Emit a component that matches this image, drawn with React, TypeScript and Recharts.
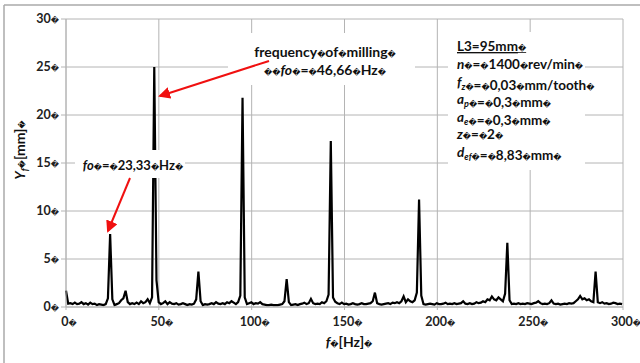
import { LineChart, Line, XAxis, YAxis, CartesianGrid } from 'recharts'

// spectrum amplitude Yf [mm], one value per frequency bin
const binHz = 1.1885
const amplitudes = [
  1.7, 0.35, 0.4, 0.3, 0.45, 0.3, 0.35, 0.5, 0.3, 0.4,
  0.25, 0.45, 0.3, 0.35, 0.2, 0.3, 0.25, 0.2, 0.3, 0.9,
  7.6, 0.8, 0.2, 0.3, 0.4, 0.7, 0.9, 1.7, 0.5, 0.3,
  0.4, 0.3, 0.45, 0.3, 0.6, 0.4, 0.5, 0.8, 0.4, 1.0,
  25.0, 2.8, 0.5, 0.3, 0.4, 0.6, 0.3, 0.5, 0.35, 0.3,
  0.4, 0.25, 0.3, 0.4, 0.3, 0.2, 0.3, 0.25, 0.35, 0.8,
  3.7, 0.6, 0.2, 0.3, 0.25, 0.3, 0.4, 0.3, 0.5, 0.35,
  0.3, 0.4, 0.3, 0.5, 0.4, 0.6, 0.45, 0.3, 0.5, 1.2,
  21.8, 1.0, 0.3, 0.4, 0.5, 0.3, 0.4, 0.35, 0.5, 0.3,
  0.25, 0.2, 0.2, 0.25, 0.2, 0.2, 0.2, 0.25, 0.3, 0.6,
  2.9, 0.5, 0.2, 0.25, 0.3, 0.2, 0.3, 0.35, 0.45, 0.3,
  0.4, 0.85, 0.4, 0.3, 0.35, 0.3, 0.5, 0.4, 0.6, 1.3,
  17.3, 1.0, 0.55, 0.4, 0.3, 0.45, 0.3, 0.35, 0.25, 0.3,
  0.4, 0.3, 0.25, 0.3, 0.4, 0.3, 0.3, 0.35, 0.4, 0.6,
  1.5, 0.4, 0.3, 0.25, 0.3, 0.35, 0.4, 0.3, 0.45, 0.4,
  0.5, 0.4, 0.6, 1.1, 0.5, 0.8, 0.6, 0.5, 0.7, 1.5,
  11.2, 1.2, 0.3, 0.25, 0.3, 0.35, 0.3, 0.25, 0.4, 0.3,
  0.3, 0.35, 0.45, 0.3, 0.35, 0.3, 0.4, 0.3, 0.35, 0.4,
  0.6, 0.35, 0.3, 0.4, 0.3, 0.35, 0.5, 0.4, 0.45, 0.6,
  0.5, 0.8, 0.7, 1.1, 0.8, 0.7, 1.0, 0.8, 0.6, 1.4,
  6.7, 0.7, 0.3, 0.35, 0.3, 0.4, 0.3, 0.35, 0.3, 0.4,
  0.35, 0.3, 0.4, 0.45, 0.6, 0.4, 0.3, 0.35, 0.3, 0.4,
  0.7, 0.35, 0.3, 0.35, 0.25, 0.3, 0.35, 0.3, 0.4, 0.35,
  0.4, 0.6, 0.8, 1.15, 0.8, 0.9, 0.7, 0.8, 0.6, 0.5,
  3.7, 0.5, 0.4, 0.5, 0.35, 0.4, 0.3, 0.35, 0.45, 0.4,
  0.3, 0.35, 0.3,
]
const xTicks = [0, 50, 100, 150, 200, 250, 300]
const yTicks = [0, 5, 10, 15, 20, 25, 30]

const data = amplitudes.map((v, i) => ({ f: i * binHz, y: v }))

const FONT = 'Lato, "Open Sans", sans-serif'
const GRID = '#b4b4b4'
const BOX = '\uFFFD'

const Box = () => (
  <tspan fontSize={8} fontFamily="DejaVu Sans" fontWeight="normal" fontStyle="normal">{BOX}</tspan>
)

const YTick = (props: any) => {
  const { x, y, payload } = props
  return (
    <text x={x} y={y} dy={4} textAnchor="end" fontFamily={FONT} fontWeight="bold" fontSize={12.5} fill="#222">
      {payload.value}
      <Box />
    </text>
  )
}

const XTick = (props: any) => {
  const { x, y, payload } = props
  return (
    <text x={x + 3} y={y} dy={14} textAnchor="middle" fontFamily={FONT} fontWeight="bold" fontSize={12.5} fill="#222">
      {payload.value}
      <Box />
    </text>
  )
}

const Arrow = ({ x1, y1, x2, y2 }: { x1: number; y1: number; x2: number; y2: number }) => (
  <line x1={x1} y1={y1} x2={x2} y2={y2} stroke="#f01010" strokeWidth={2} markerEnd="url(#head)" />
)

const params = [
  { k: 'n', sub: '', rest: '1400' + BOX + 'rev/min' },
  { k: 'f', sub: 'z', rest: '0,03' + BOX + 'mm/tooth' },
  { k: 'a', sub: 'p', rest: '0,3' + BOX + 'mm' },
  { k: 'a', sub: 'e', rest: '0,3' + BOX + 'mm' },
  { k: 'z', sub: '', rest: '2' },
  { k: 'd', sub: 'ef', rest: '8,83' + BOX + 'mm' },
]

export default function App() {
  return (
    <div style={{ position: 'absolute', left: 0, top: 0, width: 640, height: 363, background: '#fff' }}>
      <LineChart width={640} height={363} data={data} margin={{ top: 19, right: 17, bottom: 16, left: 10 }}>
        <CartesianGrid stroke={GRID} strokeWidth={1} horizontalValues={yTicks} verticalValues={xTicks} />
        <XAxis
          dataKey="f"
          type="number"
          domain={[0, 300]}
          ticks={xTicks}
          height={40}
          stroke={GRID}
          tickSize={3}
          tick={<XTick />}
          interval={0}
        />
        <YAxis
          type="number"
          domain={[0, 30]}
          ticks={yTicks}
          width={56}
          stroke={GRID}
          tickSize={5}
          tickMargin={2}
          tick={<YTick />}
          interval={0}
        />
        <Line
          type="linear"
          dataKey="y"
          stroke="#000"
          strokeWidth={2.2}
          dot={false}
          isAnimationActive={false}
        />
      </LineChart>
      <svg width={640} height={363} style={{ position: 'absolute', left: 0, top: 0, pointerEvents: 'none' }}>
        <defs>
          <marker id="head" markerWidth="6" markerHeight="6" refX="5" refY="3" orient="auto" markerUnits="strokeWidth">
            <path d="M0,0 L6,3 L0,6 Z" fill="#f01010" />
          </marker>
        </defs>
        <line x1={4} y1={5} x2={640} y2={5} stroke="#aaa" strokeWidth={1.5} />
        <line x1={4} y1={5} x2={4} y2={363} stroke="#aaa" strokeWidth={1.5} />

        <rect x={228} y={33} width={187} height={52} fill="#fff" />
        <rect x={75} y={150} width={110} height={28} fill="#fff" />
        <rect x={448} y={32} width={137} height={138} fill="#fff" />

        <g fontFamily={FONT} fontWeight="bold" fontSize={14} fill="#111">
          <text x={325} y={57} textAnchor="middle">
            frequency<Box />of<Box />milling<Box />
          </text>
          <text x={325} y={75} textAnchor="middle">
            <Box /><Box /><tspan fontStyle="italic">fo</tspan><Box />=<Box />46,66<Box />Hz<Box />
          </text>
          <text x={133} y={170} textAnchor="middle" fontSize={13}>
            <tspan fontStyle="italic">fo</tspan><Box />=<Box />23,33<Box />Hz<Box />
          </text>
        </g>

        <g fontFamily={FONT} fontWeight="bold" fontSize={13.5} fill="#111">
          <text x={457} y={51} textDecoration="underline">
            L3=95mm<Box />
          </text>
          {params.map((p, i) => (
            <text key={i} x={457} y={69 + i * 17.6}>
              <tspan fontStyle="italic">{p.k}</tspan>
              {p.sub && (
                <tspan fontStyle="italic" fontSize={9} dy={3}>{p.sub}</tspan>
              )}
              <tspan dy={p.sub ? -3 : 0}></tspan>
              <Box />=<Box />
              {p.rest.split(BOX).map((s, j, arr) => (
                <tspan key={j}>
                  {s}
                  {j < arr.length - 1 ? <Box /> : null}
                </tspan>
              ))}
              <Box />
            </text>
          ))}
        </g>

        <Arrow x1={269} y1={61} x2={160} y2={96} />
        <Arrow x1={130} y1={178} x2={108} y2={231} />

        <text
          transform="translate(25,150) rotate(-90)"
          textAnchor="middle"
          fontFamily={FONT}
          fontWeight="bold"
          fontSize={14}
          fill="#111"
        >
          <tspan fontStyle="italic">Y</tspan>
          <tspan fontStyle="italic" fontSize={9} dy={3}>f</tspan>
          <tspan dy={-3}><Box />[mm]<Box /></tspan>
        </text>
        <text x={349} y={347} textAnchor="middle" fontFamily={FONT} fontWeight="bold" fontSize={14} fill="#111">
          <tspan fontStyle="italic">f</tspan><Box />[Hz]<Box />
        </text>
      </svg>
    </div>
  )
}
